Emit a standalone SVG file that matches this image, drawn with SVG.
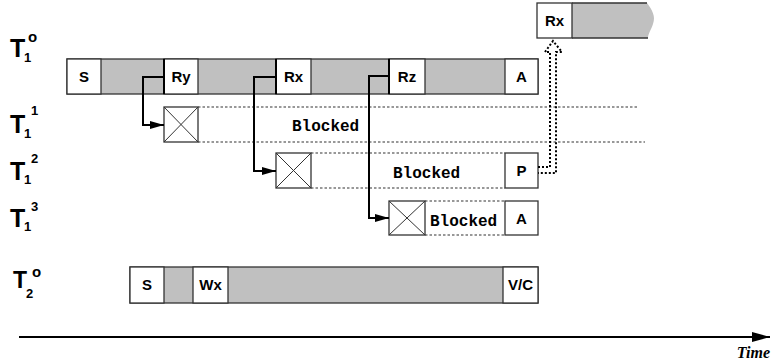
<svg xmlns="http://www.w3.org/2000/svg" width="776" height="364" viewBox="0 0 776 364">
<defs>
<style>
.bar{fill:#c0c0c0;stroke:#333;stroke-width:1.3}
.box{fill:#fff;stroke:#333;stroke-width:1.3}
.lbl{font-family:"Liberation Sans",Arial,sans-serif;font-weight:bold;font-size:15px;fill:#000;text-anchor:middle}
.tl{font-family:"Liberation Sans",Arial,sans-serif;font-weight:bold;fill:#000}
.blk{font-family:"Liberation Mono","Courier New",monospace;font-weight:bold;font-size:16px;fill:#000}
.dot{stroke:#333;stroke-width:1.2;stroke-dasharray:2.5 2;fill:none}
.xl{stroke:#333;stroke-width:1;fill:none}
.con{stroke:#000;stroke-width:2;fill:none}
</style>
<marker id="ah" viewBox="0 0 14 8" refX="14" refY="4" markerWidth="14" markerHeight="8" markerUnits="userSpaceOnUse" orient="auto">
<path d="M0,0 L14,4 L0,8 Z" fill="#000"/>
</marker>
<marker id="tah" viewBox="0 0 18 10" refX="18" refY="5" markerWidth="18" markerHeight="10" markerUnits="userSpaceOnUse" orient="auto">
<path d="M0,0 L18,5 L0,10 Z" fill="#000"/>
</marker>
</defs>

<g id="labels">
<text class="tl" x="10" y="57" font-size="25">T</text><text class="tl" x="24" y="62" font-size="13">1</text><text class="tl" x="28" y="42" font-size="15" font-weight="normal">o</text>
<text class="tl" x="10" y="133" font-size="25">T</text><text class="tl" x="24" y="138" font-size="13">1</text><text class="tl" x="31" y="115" font-size="13">1</text>
<text class="tl" x="10" y="180" font-size="25">T</text><text class="tl" x="24" y="184" font-size="13">1</text><text class="tl" x="31" y="163" font-size="13">2</text>
<text class="tl" x="10" y="227" font-size="25">T</text><text class="tl" x="24" y="231" font-size="13">1</text><text class="tl" x="31" y="211" font-size="13">3</text>
<text class="tl" x="13" y="288" font-size="23">T</text><text class="tl" x="26" y="298" font-size="13">2</text><text class="tl" x="32" y="277" font-size="15" font-weight="normal">o</text>
</g>

<g id="t1-main">
<rect class="bar" x="67" y="59" width="471" height="35"/>
<rect class="box" x="67" y="59" width="34" height="35"/><text class="lbl" x="84" y="82">S</text>
<rect class="box" x="164" y="59" width="34" height="35"/><text class="lbl" x="181" y="82">Ry</text>
<rect class="box" x="276" y="59" width="35" height="35"/><text class="lbl" x="293.5" y="82">Rx</text>
<rect class="box" x="389" y="59" width="36" height="35"/><text class="lbl" x="407" y="82">Rz</text>
<rect class="box" x="505" y="59" width="33" height="35"/><text class="lbl" x="521.5" y="82">A</text>
</g>

<g id="t1-restart">
<path d="M572,3 L647,3 C652,10 656,16 653,24 C651,30 648,34 648,38 L572,38 Z" fill="#c0c0c0"/>
<path d="M572,3 H647 M572,38 H648" stroke="#333" stroke-width="1.3" fill="none"/>
<rect class="box" x="537" y="3" width="35" height="35"/><text class="lbl" x="554.5" y="26">Rx</text>
</g>

<g id="t1-1">
<path class="dot" d="M198,107 H638 M198,142 H645"/>
<rect class="box" x="164" y="107" width="34" height="35"/>
<path class="xl" d="M164,107 L198,142 M198,107 L164,142"/>
<text class="blk" x="292" y="131">Blocked</text>
</g>

<g id="t1-2">
<path class="dot" d="M311,153 H505 M311,188 H505"/>
<rect class="box" x="276" y="153" width="35" height="35"/>
<path class="xl" d="M276,153 L311,188 M311,153 L276,188"/>
<text class="blk" x="393" y="178">Blocked</text>
<rect class="box" x="505" y="153" width="33" height="35"/><text class="lbl" x="521.5" y="176">P</text>
</g>

<g id="t1-3">
<path class="dot" d="M425,201 H505 M425,235 H505"/>
<rect class="box" x="389" y="201" width="36" height="34"/>
<path class="xl" d="M389,201 L425,235 M425,201 L389,235"/>
<text class="blk" x="430" y="226">Blocked</text>
<rect class="box" x="505" y="201" width="33" height="34"/><text class="lbl" x="521.5" y="224">A</text>
</g>

<g id="t2">
<rect class="bar" x="130" y="267" width="408" height="36"/>
<rect class="box" x="130" y="267" width="34" height="36"/><text class="lbl" x="147" y="290">S</text>
<rect class="box" x="193" y="267" width="35" height="36"/><text class="lbl" x="210.5" y="290">Wx</text>
<rect class="box" x="503" y="267" width="35" height="36"/><text class="lbl" x="520.5" y="290">V/C</text>
</g>

<g id="connectors">
<path class="con" d="M164,59 V94 M276,59 V94 M389,59 V94"/>
<path class="con" d="M164,77 H143 V125 H164" marker-end="url(#ah)"/>
<path class="con" d="M276,77 H254 V171 H276" marker-end="url(#ah)"/>
<path class="con" d="M389,76 H369 V218 H389" marker-end="url(#ah)"/>
<path d="M538,167 H550 V52 H545 L553,41 L562,52 H556 V173 H538" fill="none" stroke="#000" stroke-width="2" stroke-dasharray="2 2"/>
<path d="M19,337 H770" stroke="#000" stroke-width="2.2" fill="none" marker-end="url(#tah)"/>
</g>

<text x="770" y="358" font-family="'Liberation Serif','Times New Roman',serif" font-weight="bold" font-style="italic" font-size="16" text-anchor="end">Time</text>
</svg>
